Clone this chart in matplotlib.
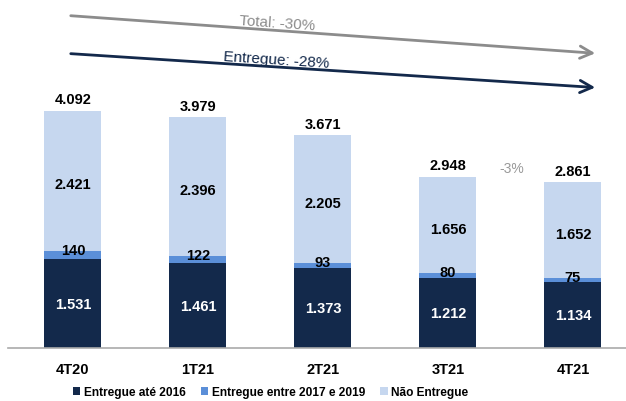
import matplotlib
matplotlib.use('Agg')
from matplotlib import pyplot as plt
import numpy as np

plt.rcParams['font.family'] = ['Liberation Sans', 'DejaVu Sans']

quarters = ['4T20', '1T21', '2T21', '3T21', '4T21']
ate_2016 = [1531, 1461, 1373, 1212, 1134]
entre_2017_2019 = [140, 122, 93, 80, 75]
nao_entregue = [2421, 2396, 2205, 1656, 1652]
totals = [4092, 3979, 3671, 2948, 2861]

c_dark = '#13294b'
c_mid = '#5b8fd8'
c_light = '#c6d7ef'

def fmt(v):
    return '{:,}'.format(v).replace(',', '.')

fig = plt.figure(figsize=(6.26, 4.02), dpi=100)
ax = fig.add_axes([8/626, 53/402, 618/626, 349/402])

x = np.arange(len(quarters))
w = 0.456
a = np.array(ate_2016)
m = np.array(entre_2017_2019)
n = np.array(nao_entregue)

ax.bar(x, a, w, color=c_dark, label='Entregue até 2016')
ax.bar(x, m, w, bottom=a, color=c_mid, label='Entregue entre 2017 e 2019')
ax.bar(x, n, w, bottom=a + m, color=c_light, label='Não Entregue')

lbl = dict(ha='center', va='center', fontsize=10.5, fontweight='bold')
for i in range(len(x)):
    ax.text(x[i], a[i] / 2, fmt(a[i]), color='white', **lbl)
    ax.text(x[i], a[i] + m[i] + 20, fmt(m[i]), color='black', **lbl)
    ax.text(x[i], a[i] + m[i] + n[i] / 2 - 60, fmt(n[i]), color='black', **lbl)
    ax.text(x[i], totals[i] + 200, fmt(totals[i]), color='black', **lbl)

ax.text(3.51, 3100, '-3%', ha='center', va='center', color='#999999', fontsize=10)

# trend arrows
ax.annotate('', xy=(4.2, 5080), xytext=(-0.04, 5735),
            arrowprops=dict(arrowstyle='->', color='#8c8c8c', lw=2, mutation_scale=22))
ax.annotate('', xy=(4.2, 4490), xytext=(-0.04, 5080),
            arrowprops=dict(arrowstyle='->', color=c_dark, lw=2, mutation_scale=22))
ax.text(1.63, 5620, 'Total: -30%', ha='center', va='center', color='#8c8c8c',
        fontsize=11, rotation=-4)
ax.text(1.63, 4970, 'Entregue: -28%', ha='center', va='center', color=c_dark,
        fontsize=11, rotation=-3.7)

ax.set_xlim(-0.52, 4.424)
ax.set_ylim(0, 6020)
ax.set_xticks(x)
ax.set_xticklabels(quarters, fontsize=10.5, fontweight='bold')
ax.tick_params(axis='x', length=0, pad=10)
ax.set_yticks([])
for s in ['top', 'right', 'left']:
    ax.spines[s].set_visible(False)
ax.spines['bottom'].set_color('#aaaaaa')
ax.spines['bottom'].set_linewidth(1.2)

leg = fig.legend(loc='lower left', ncol=3, frameon=False,
                 bbox_to_anchor=(62/626, -0.02),
                 prop={'size': 8.6, 'weight': 'bold'}, handlelength=0.6, handleheight=0.6,
                 handletextpad=0.3, columnspacing=1.3)

plt.savefig('out.png', dpi=100)
